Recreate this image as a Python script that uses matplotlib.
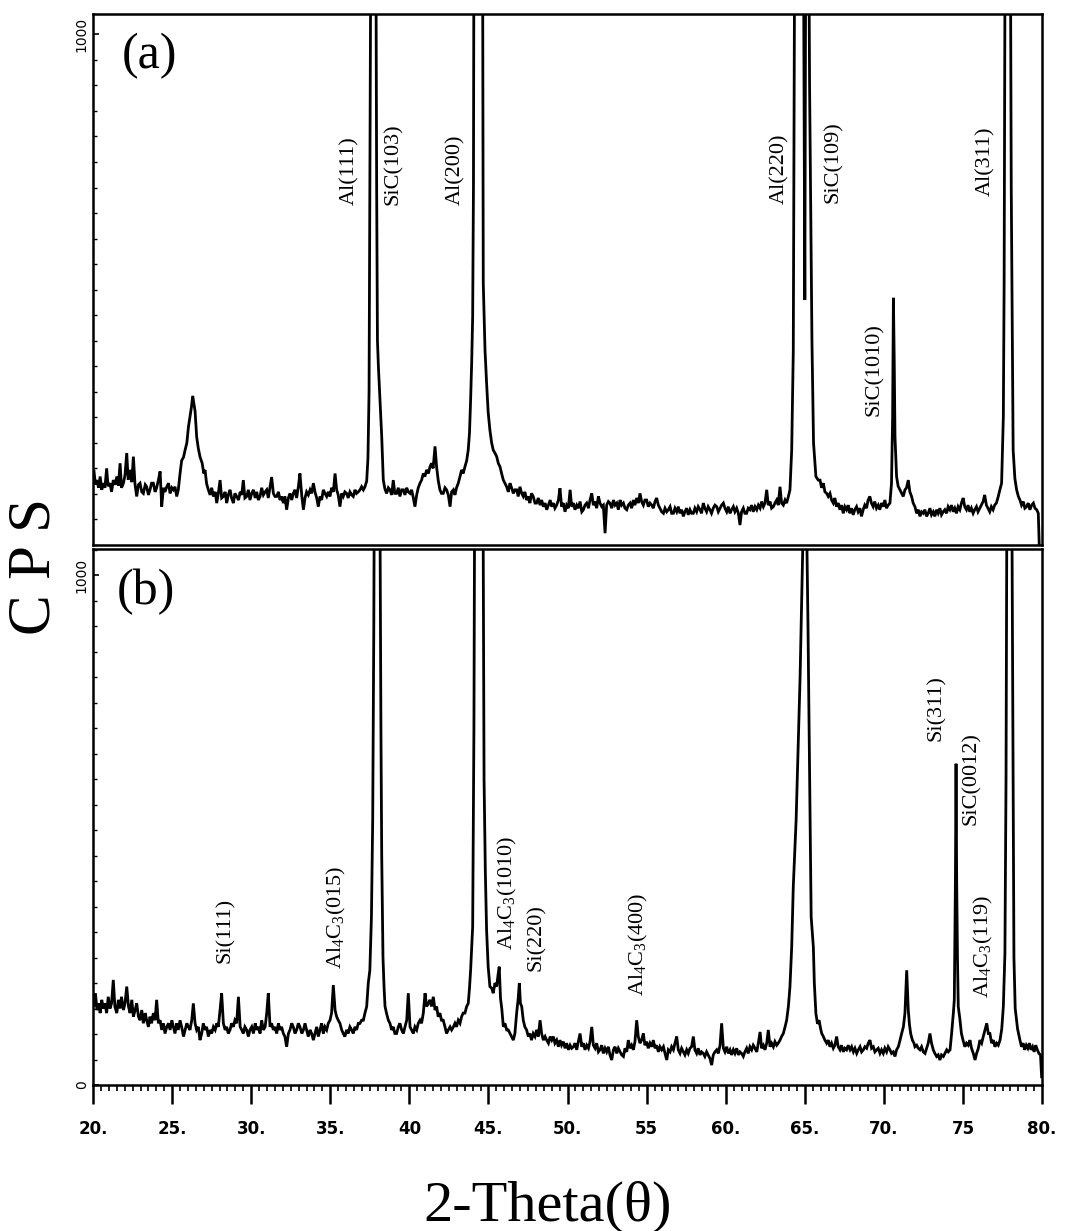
import matplotlib
matplotlib.use('Agg')
import matplotlib.pyplot as plt
from matplotlib.ticker import MultipleLocator

plt.rcParams['font.family'] = ['Liberation Serif', 'DejaVu Serif']
plt.rcParams['mathtext.fontset'] = 'custom'
plt.rcParams['mathtext.rm'] = 'Liberation Serif'
plt.rcParams['mathtext.it'] = 'Liberation Serif:italic'

# pattern (a): (2-theta, CPS)
scan_a = [
    (19.95, 134), (20.05, 147), (20.15, 118), (20.25, 127), (20.35, 112), (20.45, 134), (20.55, 108),
    (20.65, 121), (20.75, 112), (20.86, 150), (20.95, 115), (21.07, 121), (21.17, 104), (21.28, 127),
    (21.4, 118), (21.5, 134), (21.6, 116), (21.71, 160), (21.8, 112), (21.92, 121), (22.02, 137),
    (22.13, 180), (22.22, 128), (22.34, 147), (22.45, 123), (22.55, 173), (22.65, 120), (22.76, 95),
    (22.87, 118), (22.97, 121), (23.08, 104), (23.18, 101), (23.3, 118), (23.39, 114), (23.5, 98),
    (23.6, 108), (23.7, 121), (23.81, 121), (23.92, 104), (24.02, 112), (24.13, 127), (24.24, 144),
    (24.34, 75), (24.45, 112), (24.55, 104), (24.66, 114), (24.77, 121), (24.87, 101), (24.98, 112),
    (25.08, 108), (25.18, 114), (25.29, 95), (25.39, 108), (25.5, 140), (25.6, 165), (25.72, 172),
    (25.82, 186), (25.93, 200), (26.03, 231), (26.15, 255), (26.22, 270), (26.3, 292), (26.38, 276),
    (26.45, 262), (26.55, 212), (26.65, 190), (26.76, 173), (26.9, 160), (27.0, 140), (27.08, 147),
    (27.18, 120), (27.29, 108), (27.4, 98), (27.5, 112), (27.61, 95), (27.72, 104), (27.82, 82),
    (27.92, 101), (28.03, 127), (28.13, 92), (28.24, 95), (28.35, 104), (28.45, 82), (28.55, 98),
    (28.66, 108), (28.76, 92), (28.87, 82), (28.97, 101), (29.08, 95), (29.2, 88), (29.3, 104),
    (29.4, 98), (29.5, 127), (29.6, 92), (29.71, 95), (29.82, 108), (29.92, 88), (30.03, 101),
    (30.14, 108), (30.25, 92), (30.35, 104), (30.45, 88), (30.56, 95), (30.66, 112), (30.77, 98),
    (30.88, 104), (30.98, 108), (31.08, 92), (31.19, 114), (31.29, 133), (31.4, 101), (31.5, 95),
    (31.61, 95), (31.72, 104), (31.82, 88), (31.92, 95), (32.03, 82), (32.13, 95), (32.24, 69),
    (32.35, 92), (32.45, 101), (32.56, 88), (32.66, 101), (32.77, 108), (32.87, 92), (32.98, 114),
    (33.08, 140), (33.2, 95), (33.3, 69), (33.4, 92), (33.5, 104), (33.61, 98), (33.72, 108),
    (33.82, 101), (33.93, 121), (34.03, 104), (34.14, 92), (34.24, 75), (34.35, 95), (34.45, 88),
    (34.56, 108), (34.66, 101), (34.77, 95), (34.87, 104), (34.98, 95), (35.08, 112), (35.19, 104),
    (35.3, 140), (35.4, 108), (35.5, 98), (35.61, 75), (35.72, 101), (35.82, 95), (35.92, 104),
    (36.03, 101), (36.13, 92), (36.24, 104), (36.35, 98), (36.45, 95), (36.56, 108), (36.66, 101),
    (36.77, 104), (36.88, 108), (36.98, 114), (37.09, 108), (37.19, 114), (37.3, 125), (37.38, 170),
    (37.45, 300), (37.5, 700), (37.6, 1500), (37.72, 2500), (37.85, 1500), (37.93, 700), (37.98, 400),
    (38.04, 350), (38.14, 284), (38.25, 212), (38.35, 127), (38.45, 110), (38.56, 101), (38.67, 112),
    (38.77, 108), (38.88, 98), (38.98, 127), (39.08, 101), (39.19, 101), (39.3, 112), (39.4, 95),
    (39.51, 108), (39.62, 108), (39.72, 98), (39.83, 112), (39.93, 104), (40.04, 101), (40.14, 108),
    (40.25, 92), (40.35, 75), (40.46, 98), (40.56, 112), (40.67, 121), (40.77, 127), (40.88, 140),
    (40.98, 134), (41.09, 147), (41.2, 140), (41.3, 153), (41.4, 160), (41.5, 150), (41.62, 193),
    (41.72, 153), (41.82, 127), (41.93, 108), (42.03, 101), (42.14, 101), (42.25, 112), (42.35, 108),
    (42.46, 98), (42.57, 75), (42.67, 104), (42.78, 108), (42.88, 98), (42.98, 112), (43.09, 121),
    (43.2, 134), (43.3, 147), (43.4, 140), (43.51, 153), (43.62, 165), (43.72, 186), (43.8, 220),
    (43.87, 284), (43.94, 360), (44.0, 448), (44.05, 700), (44.08, 1200), (44.2, 1800), (44.35, 2400),
    (44.5, 2000), (44.62, 1300), (44.67, 513), (44.78, 382), (44.88, 317), (44.98, 260), (45.09, 225),
    (45.2, 200), (45.3, 186), (45.41, 180), (45.52, 173), (45.62, 160), (45.73, 153), (45.83, 140),
    (45.94, 127), (46.04, 121), (46.15, 114), (46.25, 104), (46.36, 121), (46.46, 112), (46.57, 101),
    (46.67, 108), (46.78, 108), (46.88, 95), (46.99, 114), (47.1, 101), (47.2, 95), (47.3, 104),
    (47.41, 88), (47.52, 95), (47.62, 82), (47.72, 101), (47.83, 95), (47.94, 82), (48.04, 82),
    (48.15, 92), (48.26, 78), (48.36, 88), (48.47, 75), (48.58, 82), (48.68, 69), (48.79, 78),
    (48.9, 88), (49.0, 75), (49.1, 82), (49.2, 72), (49.31, 78), (49.42, 88), (49.52, 111),
    (49.62, 75), (49.73, 82), (49.84, 65), (49.94, 78), (50.05, 72), (50.16, 108), (50.26, 75),
    (50.37, 82), (50.47, 69), (50.58, 78), (50.68, 72), (50.79, 85), (50.9, 65), (51.0, 69),
    (51.1, 78), (51.21, 82), (51.32, 72), (51.42, 88), (51.53, 101), (51.63, 78), (51.74, 85),
    (51.84, 72), (51.95, 95), (52.05, 82), (52.16, 75), (52.26, 78), (52.37, 23), (52.47, 78),
    (52.58, 85), (52.68, 82), (52.79, 72), (52.9, 88), (53.0, 78), (53.11, 82), (53.21, 69),
    (53.32, 88), (53.42, 78), (53.53, 82), (53.63, 72), (53.74, 69), (53.84, 78), (53.95, 82),
    (54.05, 72), (54.16, 88), (54.26, 78), (54.37, 92), (54.47, 82), (54.58, 101), (54.68, 85),
    (54.79, 78), (54.89, 88), (55.0, 88), (55.1, 75), (55.21, 82), (55.32, 78), (55.42, 72),
    (55.53, 85), (55.63, 92), (55.74, 78), (55.84, 72), (55.95, 65), (56.06, 62), (56.16, 72),
    (56.27, 65), (56.37, 69), (56.48, 75), (56.58, 62), (56.69, 62), (56.79, 72), (56.9, 65),
    (57.0, 75), (57.11, 62), (57.21, 69), (57.32, 56), (57.42, 65), (57.53, 72), (57.63, 59),
    (57.74, 69), (57.84, 62), (57.95, 62), (58.05, 72), (58.16, 65), (58.26, 75), (58.37, 69),
    (58.47, 62), (58.58, 82), (58.68, 72), (58.79, 65), (58.89, 75), (59.0, 69), (59.1, 62),
    (59.21, 72), (59.32, 78), (59.43, 75), (59.53, 65), (59.64, 72), (59.74, 78), (59.85, 82),
    (59.95, 72), (60.06, 65), (60.16, 75), (60.27, 62), (60.37, 69), (60.48, 75), (60.58, 65),
    (60.69, 72), (60.8, 62), (60.9, 39), (61.0, 65), (61.11, 72), (61.21, 62), (61.32, 62),
    (61.42, 72), (61.53, 69), (61.63, 78), (61.74, 65), (61.85, 75), (61.96, 69), (62.06, 78),
    (62.17, 72), (62.27, 85), (62.38, 75), (62.48, 82), (62.59, 108), (62.69, 78), (62.8, 85),
    (62.9, 72), (63.01, 75), (63.11, 82), (63.22, 88), (63.32, 78), (63.43, 114), (63.53, 82),
    (63.64, 78), (63.75, 88), (63.85, 82), (63.96, 95), (64.06, 108), (64.17, 186), (64.27, 380),
    (64.37, 1300), (64.6, 2000), (64.9, 1300), (65.0, 480), (65.08, 1500), (65.15, 1800), (65.3, 900),
    (65.45, 400), (65.55, 200), (65.7, 134), (65.85, 127), (65.96, 127), (66.06, 112), (66.17, 121),
    (66.27, 104), (66.38, 101), (66.48, 95), (66.59, 101), (66.69, 88), (66.8, 82), (66.9, 92),
    (67.0, 75), (67.11, 82), (67.22, 69), (67.32, 78), (67.43, 62), (67.53, 75), (67.64, 69),
    (67.74, 78), (67.85, 62), (67.95, 72), (68.06, 59), (68.16, 69), (68.27, 75), (68.37, 65),
    (68.48, 72), (68.58, 56), (68.69, 69), (68.79, 78), (68.9, 72), (69.0, 88), (69.11, 95),
    (69.21, 82), (69.32, 75), (69.42, 85), (69.53, 72), (69.64, 78), (69.74, 69), (69.85, 82),
    (69.95, 75), (70.06, 88), (70.16, 72), (70.27, 78), (70.38, 82), (70.48, 121), (70.55, 250),
    (70.6, 484), (70.65, 366), (70.7, 212), (70.8, 134), (70.9, 115), (71.01, 108), (71.12, 101),
    (71.22, 95), (71.33, 108), (71.43, 112), (71.54, 127), (71.64, 104), (71.75, 95), (71.85, 82),
    (71.96, 75), (72.07, 62), (72.17, 69), (72.28, 56), (72.38, 65), (72.49, 62), (72.59, 69),
    (72.7, 56), (72.8, 62), (72.91, 72), (73.01, 59), (73.12, 65), (73.22, 56), (73.33, 69),
    (73.43, 62), (73.54, 72), (73.64, 59), (73.75, 65), (73.85, 69), (73.96, 62), (74.06, 75),
    (74.17, 69), (74.27, 78), (74.38, 65), (74.48, 72), (74.59, 62), (74.69, 75), (74.8, 69),
    (74.9, 82), (75.01, 92), (75.11, 75), (75.22, 69), (75.32, 78), (75.43, 65), (75.53, 72),
    (75.64, 62), (75.74, 69), (75.85, 75), (75.95, 65), (76.06, 72), (76.16, 78), (76.27, 85),
    (76.37, 98), (76.48, 78), (76.58, 72), (76.69, 65), (76.79, 75), (76.9, 69), (77.0, 78),
    (77.11, 82), (77.23, 95), (77.33, 108), (77.44, 121), (77.55, 251), (77.6, 513), (77.68, 1400),
    (77.8, 2200), (77.95, 1600), (78.05, 700), (78.17, 186), (78.28, 130), (78.39, 108), (78.5, 95),
    (78.6, 88), (78.7, 78), (78.81, 85), (78.91, 72), (79.02, 75), (79.12, 82), (79.23, 69),
    (79.34, 78), (79.45, 82), (79.55, 72), (79.66, 69), (79.76, 62), (79.82, 0),
]

# pattern (b): (2-theta, CPS)
scan_b = [
    (19.95, 167), (20.05, 154), (20.15, 180), (20.25, 147), (20.35, 160), (20.45, 141), (20.55, 167),
    (20.65, 150), (20.75, 160), (20.86, 141), (20.96, 173), (21.07, 150), (21.17, 160), (21.28, 206),
    (21.38, 154), (21.5, 141), (21.6, 167), (21.71, 150), (21.8, 173), (21.92, 147), (22.02, 160),
    (22.13, 193), (22.24, 154), (22.34, 141), (22.45, 167), (22.55, 134), (22.66, 147), (22.76, 160),
    (22.87, 134), (22.97, 127), (23.08, 147), (23.18, 121), (23.3, 141), (23.39, 127), (23.5, 114),
    (23.6, 134), (23.7, 121), (23.81, 141), (23.92, 127), (24.02, 167), (24.13, 121), (24.24, 127),
    (24.34, 108), (24.45, 121), (24.55, 101), (24.66, 114), (24.77, 121), (24.87, 108), (24.98, 127),
    (25.08, 114), (25.18, 101), (25.29, 121), (25.39, 108), (25.5, 127), (25.6, 114), (25.72, 95),
    (25.82, 108), (25.93, 121), (26.03, 114), (26.13, 108), (26.24, 127), (26.34, 160), (26.45, 121),
    (26.55, 108), (26.66, 114), (26.76, 88), (26.87, 101), (26.97, 121), (27.08, 108), (27.18, 114),
    (27.29, 95), (27.4, 108), (27.5, 101), (27.61, 114), (27.72, 108), (27.82, 121), (27.92, 114),
    (28.03, 147), (28.13, 180), (28.24, 121), (28.35, 108), (28.45, 114), (28.55, 101), (28.66, 108),
    (28.76, 121), (28.87, 114), (28.97, 127), (29.08, 121), (29.19, 173), (29.3, 114), (29.4, 108),
    (29.5, 101), (29.6, 114), (29.71, 108), (29.82, 95), (29.92, 108), (30.03, 114), (30.14, 101),
    (30.25, 121), (30.35, 108), (30.45, 114), (30.56, 101), (30.66, 127), (30.77, 108), (30.88, 114),
    (30.98, 141), (31.08, 180), (31.19, 114), (31.29, 121), (31.4, 108), (31.5, 114), (31.61, 101),
    (31.72, 121), (31.82, 108), (31.92, 114), (32.03, 101), (32.13, 95), (32.24, 75), (32.35, 101),
    (32.45, 108), (32.56, 121), (32.66, 114), (32.77, 101), (32.87, 108), (32.98, 121), (33.08, 114),
    (33.2, 101), (33.3, 108), (33.4, 121), (33.5, 108), (33.61, 95), (33.72, 108), (33.82, 101),
    (33.93, 88), (34.03, 101), (34.14, 114), (34.24, 95), (34.35, 108), (34.45, 121), (34.56, 101),
    (34.66, 114), (34.77, 108), (34.87, 121), (34.98, 127), (35.08, 141), (35.19, 196), (35.3, 147),
    (35.4, 134), (35.5, 127), (35.61, 121), (35.72, 108), (35.82, 101), (35.92, 95), (36.03, 108),
    (36.13, 101), (36.24, 114), (36.35, 108), (36.45, 101), (36.56, 114), (36.66, 108), (36.77, 121),
    (36.88, 121), (36.98, 127), (37.09, 127), (37.19, 141), (37.3, 154), (37.4, 200), (37.5, 225),
    (37.6, 330), (37.68, 520), (37.75, 900), (37.83, 1600), (37.95, 2200), (38.1, 1400), (38.2, 700),
    (38.25, 450), (38.33, 250), (38.4, 190), (38.46, 154), (38.56, 140), (38.67, 127), (38.77, 121),
    (38.88, 108), (38.98, 114), (39.08, 101), (39.19, 101), (39.3, 114), (39.4, 121), (39.51, 108),
    (39.62, 101), (39.72, 114), (39.83, 127), (39.93, 180), (40.04, 114), (40.14, 108), (40.25, 101),
    (40.35, 114), (40.46, 108), (40.56, 121), (40.67, 127), (40.77, 121), (40.88, 141), (40.99, 180),
    (41.09, 154), (41.2, 160), (41.3, 167), (41.4, 154), (41.51, 173), (41.62, 147), (41.72, 154),
    (41.82, 134), (41.93, 141), (42.03, 127), (42.14, 127), (42.25, 114), (42.35, 101), (42.46, 108),
    (42.57, 114), (42.67, 108), (42.78, 114), (42.88, 121), (42.98, 114), (43.09, 127), (43.2, 121),
    (43.3, 134), (43.4, 141), (43.51, 141), (43.62, 154), (43.72, 160), (43.8, 190), (43.87, 225),
    (43.94, 270), (44.0, 310), (44.08, 700), (44.15, 1400), (44.3, 2200), (44.5, 2000), (44.65, 1200),
    (44.72, 600), (44.8, 420), (44.88, 304), (44.98, 232), (45.09, 193), (45.2, 190), (45.3, 180),
    (45.41, 200), (45.52, 193), (45.6, 215), (45.68, 232), (45.76, 170), (45.84, 150), (45.94, 114),
    (46.04, 121), (46.15, 108), (46.25, 108), (46.36, 101), (46.46, 95), (46.57, 88), (46.67, 101),
    (46.78, 141), (46.88, 170), (46.95, 200), (47.02, 160), (47.1, 154), (47.2, 127), (47.3, 114),
    (47.41, 108), (47.52, 95), (47.62, 101), (47.72, 88), (47.83, 101), (47.94, 95), (48.04, 108),
    (48.15, 95), (48.26, 127), (48.36, 101), (48.47, 88), (48.58, 95), (48.68, 88), (48.79, 82),
    (48.9, 95), (49.0, 88), (49.1, 95), (49.2, 82), (49.31, 88), (49.42, 75), (49.52, 88),
    (49.62, 78), (49.73, 85), (49.84, 72), (49.94, 82), (50.05, 69), (50.16, 78), (50.26, 72),
    (50.37, 75), (50.47, 82), (50.58, 69), (50.68, 85), (50.79, 101), (50.9, 75), (51.0, 82),
    (51.1, 69), (51.21, 78), (51.32, 72), (51.42, 85), (51.53, 114), (51.63, 78), (51.74, 72),
    (51.84, 82), (51.95, 65), (52.05, 69), (52.16, 78), (52.26, 62), (52.37, 72), (52.47, 65),
    (52.58, 75), (52.68, 59), (52.79, 49), (52.9, 69), (53.0, 75), (53.11, 62), (53.21, 72),
    (53.32, 65), (53.42, 59), (53.53, 56), (53.63, 72), (53.74, 65), (53.84, 88), (53.95, 72),
    (54.05, 78), (54.16, 69), (54.26, 85), (54.37, 127), (54.47, 95), (54.58, 82), (54.68, 88),
    (54.79, 101), (54.89, 78), (55.0, 85), (55.1, 72), (55.21, 82), (55.32, 75), (55.42, 88),
    (55.53, 72), (55.63, 78), (55.74, 65), (55.84, 75), (55.95, 69), (56.06, 75), (56.16, 62),
    (56.27, 49), (56.37, 69), (56.48, 65), (56.58, 75), (56.69, 69), (56.79, 82), (56.9, 95),
    (57.0, 69), (57.11, 62), (57.21, 72), (57.32, 65), (57.42, 59), (57.53, 69), (57.63, 62),
    (57.74, 72), (57.84, 75), (57.95, 95), (58.05, 69), (58.16, 62), (58.26, 72), (58.37, 59),
    (58.47, 65), (58.58, 62), (58.68, 56), (58.79, 65), (58.89, 59), (59.0, 52), (59.11, 39),
    (59.21, 59), (59.32, 65), (59.43, 69), (59.53, 62), (59.64, 78), (59.74, 121), (59.85, 72),
    (59.95, 65), (60.06, 75), (60.16, 62), (60.27, 69), (60.37, 59), (60.48, 69), (60.58, 62),
    (60.69, 72), (60.8, 59), (60.9, 65), (61.0, 62), (61.11, 56), (61.21, 65), (61.32, 72),
    (61.42, 62), (61.53, 75), (61.64, 69), (61.74, 78), (61.85, 72), (61.96, 65), (62.06, 82),
    (62.17, 104), (62.27, 72), (62.38, 78), (62.48, 69), (62.59, 82), (62.69, 108), (62.8, 75),
    (62.9, 82), (63.01, 75), (63.11, 85), (63.22, 78), (63.32, 82), (63.43, 88), (63.53, 95),
    (63.64, 101), (63.75, 114), (63.85, 127), (63.96, 154), (64.06, 193), (64.17, 271), (64.27, 389),
    (64.45, 520), (64.7, 800), (64.9, 1100), (65.05, 1250), (65.2, 900), (65.33, 520), (65.4, 330),
    (65.54, 270), (65.6, 200), (65.7, 140), (65.8, 120), (65.9, 127), (66.0, 110), (66.07, 101),
    (66.17, 95), (66.27, 88), (66.38, 82), (66.48, 88), (66.59, 75), (66.69, 82), (66.8, 72),
    (66.9, 78), (67.01, 95), (67.11, 75), (67.22, 69), (67.32, 78), (67.43, 65), (67.53, 72),
    (67.64, 69), (67.74, 78), (67.86, 69), (67.96, 75), (68.07, 65), (68.17, 72), (68.28, 62),
    (68.38, 69), (68.49, 75), (68.59, 65), (68.7, 69), (68.8, 75), (68.91, 72), (69.01, 82),
    (69.12, 88), (69.22, 72), (69.33, 75), (69.43, 65), (69.54, 69), (69.64, 72), (69.75, 62),
    (69.85, 69), (69.96, 62), (70.06, 72), (70.17, 65), (70.27, 75), (70.38, 69), (70.48, 62),
    (70.59, 65), (70.7, 56), (70.8, 69), (70.91, 75), (71.02, 88), (71.12, 101), (71.23, 114),
    (71.33, 141), (71.44, 225), (71.54, 147), (71.61, 120), (71.69, 101), (71.8, 88), (71.9, 82),
    (71.96, 75), (72.07, 78), (72.17, 72), (72.28, 69), (72.38, 75), (72.49, 65), (72.6, 62),
    (72.7, 72), (72.8, 82), (72.91, 101), (73.01, 82), (73.12, 69), (73.22, 62), (73.33, 56),
    (73.43, 59), (73.54, 49), (73.64, 59), (73.76, 56), (73.86, 62), (73.97, 69), (74.07, 65),
    (74.18, 69), (74.28, 101), (74.39, 141), (74.45, 167), (74.52, 400), (74.56, 630), (74.6, 400),
    (74.65, 250), (74.7, 154), (74.8, 130), (74.9, 101), (75.0, 88), (75.12, 75), (75.22, 82),
    (75.33, 78), (75.44, 88), (75.54, 72), (75.65, 62), (75.76, 49), (75.86, 62), (75.97, 72),
    (76.07, 88), (76.18, 82), (76.28, 95), (76.39, 108), (76.5, 121), (76.6, 101), (76.7, 101),
    (76.81, 82), (76.91, 88), (77.02, 75), (77.12, 82), (77.23, 78), (77.34, 88), (77.45, 110),
    (77.55, 154), (77.65, 258), (77.72, 600), (77.8, 1400), (77.95, 1900), (78.08, 1200), (78.18, 500),
    (78.22, 250), (78.3, 150), (78.45, 110), (78.6, 88), (78.7, 75), (78.8, 82), (78.9, 69),
    (79.0, 78), (79.1, 72), (79.2, 82), (79.3, 69), (79.4, 75), (79.5, 65), (79.6, 78),
    (79.7, 69), (79.8, 62), (79.9, 59), (79.97, 16),
]

# x ticks as printed under the lower panel
tick_pos = [20, 25, 30, 35, 40, 45, 50, 55, 60, 65, 70, 75, 80]
tick_text = ['20.', '25.', '30.', '35.', '40', '45.', '50.', '55', '60.', '65.', '70.', '75', '80.']

# peak labels: (text, 2-theta, CPS)
labels_a = [
    ('Al(111)', 36.25, 733),
    ('SiC(103)', 38.96, 745),
    ('Al(200)', 42.95, 735),
    ('Al(220)', 63.43, 737),
    ('SiC(109)', 66.78, 749),
    ('Al(311)', 76.45, 751),
    ('SiC(1010)', 69.37, 343),
]
labels_b = [
    ('Si(111)', 28.34, 304),
    (r'Al$_4$C$_3$(015)', 35.42, 329),
    (r'Al$_4$C$_3$(1010)', 46.17, 376),
    ('Si(220)', 48.0, 290),
    (r'Al$_4$C$_3$(400)', 54.51, 276),
    ('Si(311)', 73.29, 739),
    ('SiC(0012)', 75.5, 600),
    (r'Al$_4$C$_3$(119)', 76.32, 271),
]

fig = plt.figure(figsize=(10.72, 12.31), dpi=100)
ax_a = fig.add_axes([0.0868, 0.5573, 0.8853, 0.4314])
ax_b = fig.add_axes([0.0868, 0.1186, 0.8853, 0.4354])

for ax, scan, labels, top in [(ax_a, scan_a, labels_a, 1040), (ax_b, scan_b, labels_b, 1051)]:
    th = [p[0] for p in scan]
    cps = [p[1] for p in scan]
    ax.plot(th, cps, color='black', lw=2.0, solid_joinstyle='miter')
    ax.set_xlim(20, 80)
    ax.set_ylim(0, top)
    for sp in ax.spines.values():
        sp.set_linewidth(1.8)
    ax.yaxis.set_minor_locator(MultipleLocator(50))
    ax.tick_params(axis='y', which='minor', direction='in', length=3, width=1)
    ax.tick_params(axis='y', which='major', direction='in', length=4, width=1.2,
                   labelsize=10, labelrotation=90, pad=3)
    for text, x, y in labels:
        ax.text(x, y, text, rotation=90, ha='center', va='center', fontsize=16)

ax_a.set_yticks([1000])
ax_a.set_yticklabels(['1000'], va='center', family='DejaVu Sans')
ax_a.tick_params(axis='x', which='both', bottom=False, labelbottom=False)
ax_a.text(0.06, 0.92, '(a)', transform=ax_a.transAxes, ha='center', va='center', fontsize=36)

ax_b.set_yticks([0, 1000])
ax_b.set_yticklabels(['0', '1000'], va='center', family='DejaVu Sans')
ax_b.set_xticks(tick_pos)
ax_b.set_xticklabels(tick_text, family='DejaVu Sans', fontweight='bold', fontsize=12)
ax_b.xaxis.set_minor_locator(MultipleLocator(0.5))
ax_b.tick_params(axis='x', which='major', direction='out', length=14, width=1.8, pad=11)
ax_b.tick_params(axis='x', which='minor', direction='out', length=4, width=1.2)
ax_b.text(0.056, 0.92, '(b)', transform=ax_b.transAxes, ha='center', va='center', fontsize=36)

fig.text(35 / 1072, 1 - 566 / 1231, 'C P S', rotation=90, ha='center', va='center', fontsize=44)
fig.text(548 / 1072, 1 - 1207 / 1231, '2-Theta(θ)', ha='center', va='center', fontsize=42)

fig.savefig('out.png', dpi=100)
